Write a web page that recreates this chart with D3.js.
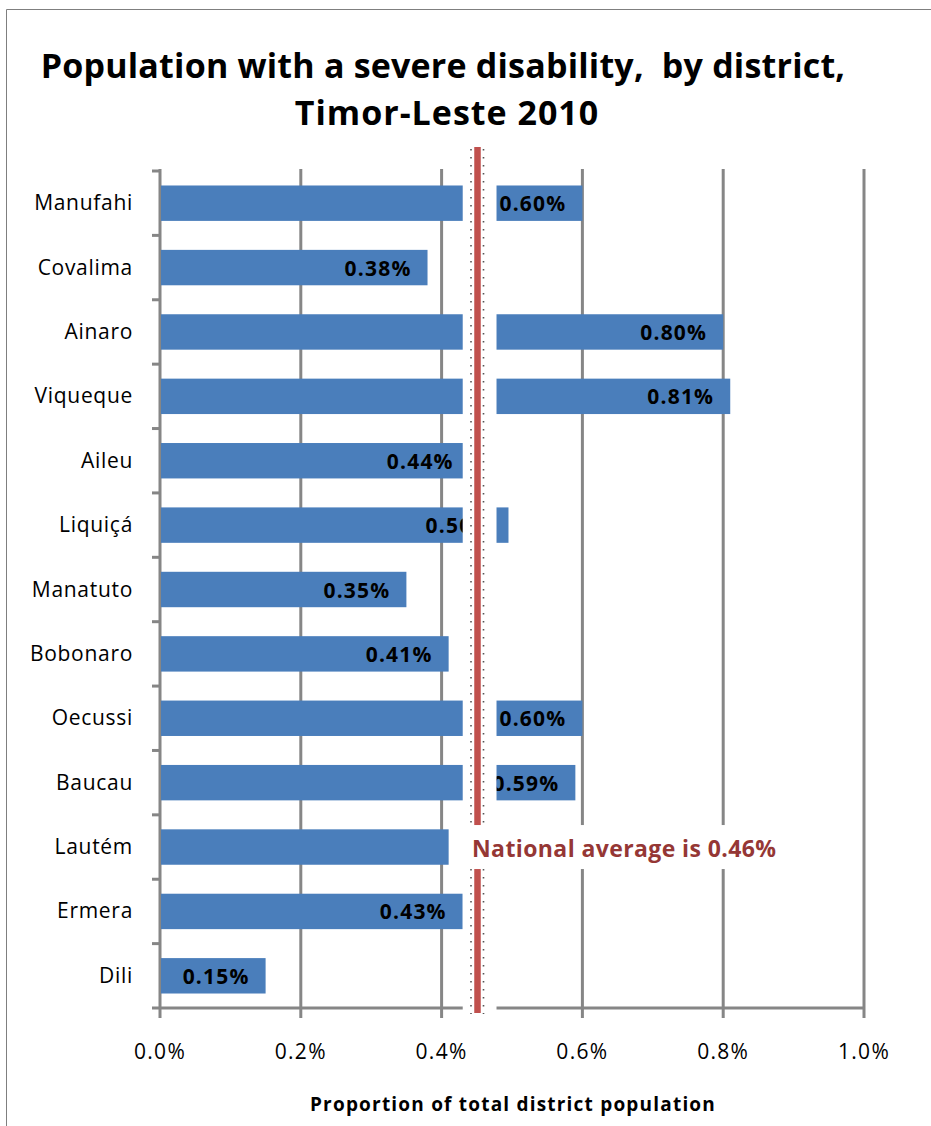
<!DOCTYPE html>
<html>
<head>
<meta charset="utf-8">
<script src="https://cdn.jsdelivr.net/npm/d3@7"></script>
<style>
  html, body { margin: 0; padding: 0; background: #fff; }
  svg { display: block; }
  text { font-family: "Open Sans", Lato, sans-serif; white-space: pre; }
</style>
</head>
<body>
<svg id="chart" width="931" height="1126"></svg>
<script>
// ---- data ----
const districts = ["Manufahi","Covalima","Ainaro","Viqueque","Aileu","Liquiçá","Manatuto","Bobonaro","Oecussi","Baucau","Lautém","Ermera","Dili"];
const values = [0.60, 0.38, 0.80, 0.81, 0.44, 0.495, 0.35, 0.41, 0.60, 0.59, 0.41, 0.43, 0.15];
const labels = ["0.60%","0.38%","0.80%","0.81%","0.44%","0.50%","0.35%","0.41%","0.60%","0.59%","","0.43%","0.15%"];
const xTicks = [0, 0.2, 0.4, 0.6, 0.8, 1.0];
const xTickLabels = ["0.0%","0.2%","0.4%","0.6%","0.8%","1.0%"];
const titleLines = ["Population with a severe disability,  by district,", "Timor-Leste 2010"];
const xAxisTitle = "Proportion of total district population";
const nationalAverage = 0.46;
const nationalText = "National average is 0.46%";
const averageLineAt = 0.451;       // where the drawn marker line sits
const gapRange = [0.43, 0.478];    // white band covering the bars around the marker

// ---- layout ----
const svg = d3.select("#chart");
const pLeft = 160, pRight = 864, pTop = 171, pBottom = 1008;
const x = d3.scaleLinear().domain([0, 1.0]).range([pLeft, pRight]);
const y = d3.scaleBand().domain(districts).range([pTop, pBottom]).paddingInner(0.45).paddingOuter(0.225);
const yb = d3.scaleBand().domain(districts).range([pTop, pBottom]);
const grid = "#868686";
const barColor = "#4a7ebb";

// outer border
svg.append("path").attr("d", "M6.5,1126 V9.5 H931").attr("fill","none").attr("stroke","#7f7f7f").attr("stroke-width",1);

// title
svg.selectAll("text.title").data(titleLines).join("text")
  .attr("class","title")
  .attr("x", (d,i) => i === 0 ? 443 : 447).attr("y", (d,i) => 78 + i*47)
  .attr("text-anchor","middle")
  .attr("font-size", 34).attr("font-weight","bold").attr("fill","#000")
  .attr("letter-spacing", (d,i) => i === 0 ? 0.2 : 1)
  .text(d => d);

// vertical gridlines (with tick extension below axis)
svg.selectAll("line.grid").data(xTicks.slice(1)).join("line")
  .attr("class","grid")
  .attr("x1", d => x(d)).attr("x2", d => x(d))
  .attr("y1", pTop - 2).attr("y2", pBottom + 10)
  .attr("stroke", grid).attr("stroke-width", 3);

// y axis line with category-boundary ticks
svg.append("line").attr("x1", pLeft).attr("x2", pLeft).attr("y1", pTop - 2).attr("y2", pBottom + 10)
  .attr("stroke", grid).attr("stroke-width", 3);
svg.selectAll("line.ytick").data(districts).join("line")
  .attr("class","ytick")
  .attr("x1", pLeft - 8).attr("x2", pLeft)
  .attr("y1", d => yb(d)).attr("y2", d => yb(d))
  .attr("stroke", grid).attr("stroke-width", 3);

// x axis line
svg.append("line").attr("x1", pLeft - 8).attr("x2", pRight).attr("y1", pBottom).attr("y2", pBottom)
  .attr("stroke", grid).attr("stroke-width", 3);

// bars
svg.selectAll("rect.bar").data(districts).join("rect")
  .attr("class","bar")
  .attr("x", x(0) + 1)
  .attr("y", d => y(d))
  .attr("width", (d,i) => x(values[i]) - x(0) - 1)
  .attr("height", y.bandwidth())
  .attr("fill", barColor);

// bar labels (inside end)
svg.selectAll("text.val").data(districts).join("text")
  .attr("class","val")
  .attr("x", (d,i) => x(values[i]) - 16)
  .attr("y", d => y(d) + y.bandwidth()/2 + 8)
  .attr("text-anchor","end")
  .attr("font-size", 21).attr("font-weight","bold").attr("fill","#000")
  .attr("letter-spacing", 1.2)
  .text((d,i) => labels[i]);

// white band covering area around average line
svg.append("rect")
  .attr("x", x(gapRange[0])).attr("y", pTop - 30)
  .attr("width", x(gapRange[1]) - x(gapRange[0])).attr("height", pBottom + 12 - (pTop - 30))
  .attr("fill", "#fff");

// dotted lines either side of the marker
[-6.5, 6].forEach(off => {
  svg.append("line")
    .attr("x1", x(averageLineAt) + off).attr("x2", x(averageLineAt) + off)
    .attr("y1", pTop - 22).attr("y2", pBottom + 6)
    .attr("stroke", "#555").attr("stroke-width", 1.6)
    .attr("stroke-dasharray", "1.5,6.5");
});

// national average line
svg.append("line")
  .attr("x1", x(averageLineAt)).attr("x2", x(averageLineAt))
  .attr("y1", 147).attr("y2", pBottom + 5)
  .attr("stroke", "#c0504d").attr("stroke-width", 6.5);

// national average label with white box
const naY = yb("Lautém") + yb.bandwidth()/2;
svg.append("rect").attr("x", 466).attr("y", naY - 22).attr("width", 330).attr("height", 44).attr("fill","#fff");
svg.append("text")
  .attr("x", 472).attr("y", naY + 10)
  .attr("font-size", 23).attr("font-weight","bold").attr("fill","#953735")
  .attr("letter-spacing", 0.4)
  .text(nationalText);

// category labels
svg.selectAll("text.cat").data(districts).join("text")
  .attr("class","cat")
  .attr("x", 133)
  .attr("y", d => yb(d) + yb.bandwidth()/2 + 7)
  .attr("text-anchor","end")
  .attr("font-size", 21).attr("fill","#000")
  .attr("letter-spacing", 0.7)
  .text(d => d);

// x tick labels
svg.selectAll("text.xt").data(xTicks).join("text")
  .attr("class","xt")
  .attr("x", d => x(d)).attr("y", 1059)
  .attr("text-anchor","middle")
  .attr("font-size", 21).attr("fill","#000")
  .attr("letter-spacing", 1.3)
  .text((d,i) => xTickLabels[i]);

// x axis title
svg.append("text")
  .attr("x", 513).attr("y", 1111)
  .attr("text-anchor","middle")
  .attr("font-size", 19).attr("font-weight","bold").attr("fill","#000")
  .attr("letter-spacing", 1.2)
  .text(xAxisTitle);
</script>
</body>
</html>
